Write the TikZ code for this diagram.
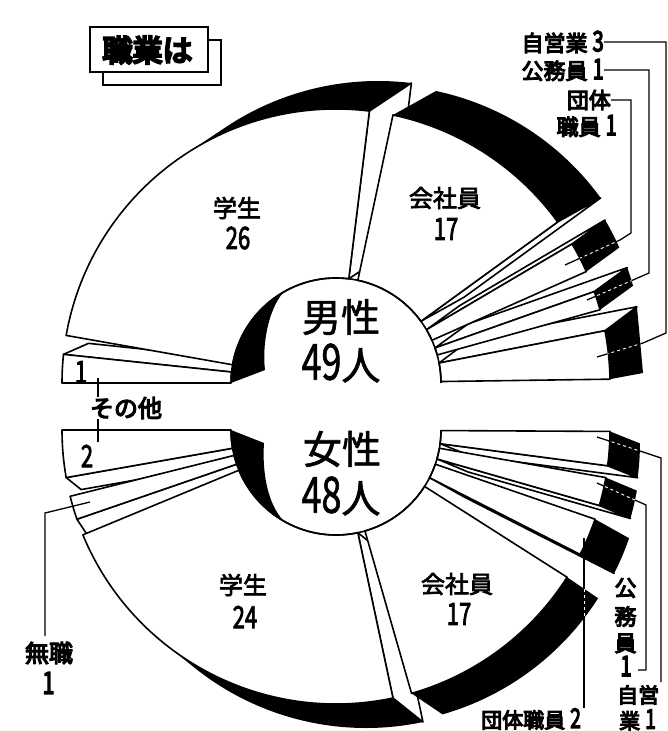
\documentclass[tikz,border=0pt]{standalone}
\usepackage{fontspec}
\usepackage{graphicx}
\usetikzlibrary{calc}
\setmainfont{Noto Sans CJK JP}
\newfontfamily\jH{Noto Sans CJK JP}[FakeBold=1.5]
\newfontfamily\jA{Noto Sans CJK JP}[FakeBold=3]
\newfontfamily\jB{Noto Sans CJK JP}[FakeBold=5]
\newfontfamily\jC{Noto Sans CJK JP}[FakeBold=8]
\newcommand\dg[1]{\scalebox{0.92}[1.28]{#1}}
\newcommand\lblgap{\hspace{5pt}}
\newcommand\frontface[5]{\draw[sface] ($(#1)+(#2:#4)$) -- ($(#1)+(#2:#5)$) arc[start angle=#2,end angle=#3,radius=#5] -- ($(#1)+(#3:#4)$) arc[start angle=#3,end angle=#2,radius=#4] -- cycle;}
\newcommand\rimpath[6]{($(#1)+(#2:#4)$) arc[start angle=#2,end angle=#3,radius=#4] -- ++(#5,#6) arc[start angle=#3,end angle=#2,radius=#4] -- cycle}
\newcommand\rimface[6]{\fill[rimfill] \rimpath{#1}{#2}{#3}{#4}{#5}{#6};}
\newcommand\sideface[6]{\draw[sface] ($(#1)+(#2:#3)$) -- ($(#1)+(#2:#4)$) -- ++(#5,#6) -- ($(#1)+(#2:#3)+(#5,#6)$) -- cycle;}
\begin{document}
\begin{tikzpicture}[x=1pt,y=1pt]
\tikzset{sface/.style={fill=white,draw=black,line width=1.6pt,line join=round},
 rimfill/.style={fill=black},
 ldr/.style={draw=black,line width=1.3pt},
 wdash/.style={draw=white,line width=0.9pt,dash pattern=on 3pt off 3pt},
 lblA/.style={inner sep=0pt,font=\jA\fontsize{24}{24}\selectfont},
 hubl/.style={inner sep=0pt,font=\jH\fontsize{39}{39}\selectfont},
 smallB/.style={inner sep=0pt,font=\jB\fontsize{22}{22}\selectfont},
 smallC/.style={inner sep=0pt,font=\jB\fontsize{24}{24}\selectfont},
 smallD/.style={inner sep=0pt,font=\jB\fontsize{21}{21}\selectfont},
 ttl/.style={inner sep=0pt,font=\jC\fontsize{30}{30}\selectfont}}
\useasboundingbox (0,0) rectangle (668,-731);
\fill[white] (0,0) rectangle (668,-731);
\coordinate (C1) at (336,-383);
\coordinate (C2) at (336,-430);

% ---------------- TOP HALF ----------------
\sideface{C1}{174}{105}{274}{25}{11}
\rimface{C1}{83}{123.69}{274}{42}{28}
\sideface{C1}{83}{105}{274}{42}{28}
\rimface{C1}{36}{78}{274}{43}{24}
\sideface{C1}{36}{105}{274}{43}{24}
\sideface{C1}{30.5}{105}{274}{33}{24}
\rimface{C1}{24}{30.5}{274}{33}{24}
\sideface{C1}{19.5}{105}{274}{33}{24}
\rimface{C1}{15.5}{19.5}{274}{33}{24}
\sideface{C1}{11}{105}{274}{32}{24}
\fill[rimfill] ($(C1)+(11:274)$) -- ++(32,24) -- (643,-373) -- ($(C1)+(0.8:274)$) -- cycle;
\fill[rimfill] ($(C1)+(180:105)$) arc[start angle=180,end angle=120,radius=105] .. controls (268,-310) and (262,-345) .. (265,-370) -- cycle;
\frontface{C1}{174}{180}{105}{274}
\frontface{C1}{83}{170}{105}{274}
\frontface{C1}{36}{78}{105}{274}
\frontface{C1}{24}{30.5}{105}{274}
\frontface{C1}{15.5}{19.5}{105}{274}
\frontface{C1}{0.8}{11}{105}{274}
\draw[line width=1.6pt] ($(C1)+(180:105)$) arc[start angle=180,end angle=0,radius=105];

% ---------------- BOTTOM HALF ----------------
\sideface{C2}{-170}{105}{274}{15}{-12}
\sideface{C2}{-161}{105}{274}{10}{-15}
\rimface{C2}{-128.66}{-78}{274}{30}{-24}
\sideface{C2}{-78}{105}{274}{30}{-24}
\rimface{C2}{-74}{-32.5}{274}{31}{-21}
\sideface{C2}{-27}{105}{274}{34}{-19}
\rimface{C2}{-27}{-19}{274}{34}{-19}
\sideface{C2}{-16}{105}{274}{31}{-13}
\rimface{C2}{-16}{-10}{274}{31}{-13}
\sideface{C2}{-7.5}{105}{274}{30}{-12}
\rimface{C2}{-7.5}{-0.3}{274}{30}{-12}
\fill[rimfill] ($(C2)+(-180:105)$) arc[start angle=-180,end angle=-120,radius=105] .. controls (268,-504) and (262,-474) .. (264,-443) -- cycle;
\frontface{C2}{-180}{-170}{105}{274}
\frontface{C2}{-166}{-161}{105}{274}
\frontface{C2}{-157.5}{-78}{105}{274}
\frontface{C2}{-74}{-32.5}{105}{274}
\frontface{C2}{-27}{-19}{105}{274}
\frontface{C2}{-16}{-10}{105}{274}
\frontface{C2}{-7.5}{-0.3}{105}{274}
\draw[line width=1.6pt] ($(C2)+(-180:105)$) arc[start angle=-180,end angle=0,radius=105];

% ---------------- TITLE ----------------
\draw[line width=1.5pt,fill=white] (103,-40) rectangle (221,-85);
\draw[line width=1.8pt,fill=white] (90,-27) rectangle (208,-72);
\node[ttl] (title) at (147.5,-50) {職業は};

% ---------------- LABELS ----------------
\node[lblA] (stu1) at (237,-208) {学生};
\node[lblA] (stu1n) at (238,-238) {\dg{26}};
\node[lblA] (com1) at (445,-198) {会社員};
\node[lblA] (com1n) at (446,-229) {\dg{17}};
\node[hubl] (male) at (341,-317) {男性};
\node[hubl] (malen) at (341,-363) {\dg{49}人};
\node[hubl] (fem) at (342,-449) {女性};
\node[hubl] (femn) at (341,-496) {\dg{48}人};
\node[lblA] (stu2) at (243,-585) {学生};
\node[lblA] (stu2n) at (245,-617) {\dg{24}};
\node[lblA] (com2) at (457,-584) {会社員};
\node[lblA] (com2n) at (459,-614) {\dg{17}};
\node[lblA] (oth1) at (81,-372) {\dg{1}};
\node[lblA] (oth2) at (87,-456) {\dg{2}};
\node[smallC] (sonota) at (126,-408) {その他};
\node[smallB,anchor=east] (jiei3) at (604,-42) {自営業\lblgap\dg{3}};
\node[smallB,anchor=east] (koum1) at (604,-70) {公務員\lblgap\dg{1}};
\node[smallB,anchor=east] (dant) at (611,-100) {団体};
\node[smallB,anchor=east] (dant1) at (617,-126) {職員\lblgap\dg{1}};
\node[smallC] (mush) at (49,-653) {無職};
\node[smallC] (mush1) at (48.5,-683) {\dg{1}};
\node[smallB] (kb1) at (625.5,-588) {公};
\node[smallB] (kb2) at (625.5,-616.5) {務};
\node[smallB] (kb3) at (625.5,-643.5) {員};
\node[smallB] (kb4) at (626,-666) {\dg{1}};
\node[smallD,anchor=west] (dant2) at (481,-719) {団体職員\lblgap\dg{2}};
\node[smallD,anchor=west] (jieia) at (617,-695) {自営};
\node[smallD,anchor=west] (jieib) at (619,-720) {業\lblgap\dg{1}};

% ---------------- LEADERS ----------------
\coordinate (eJ3) at (597,-357);
\coordinate (eK1) at (587,-300);
\coordinate (eD1) at (565,-265);
\coordinate (eK2) at (597,-483);
\coordinate (eJ1) at (597,-437);
\coordinate (eD2) at (584,-538);
\coordinate (eM) at (90,-502);
\draw[ldr] (jiei3.east) -- (666,-42) -- (666,-333) -- (643,-343) -- (eJ3);
\draw[ldr] (koum1.east) -- (649,-70) -- (649,-273) -- (633,-280) -- (eK1);
\draw[ldr] (dant.east) -- (631,-100) -- (631,-233) -- (620,-240) -- (eD1);
\draw[ldr] (638,-670) -- (646,-670) -- (646,-505) -- (eK2);
\draw[ldr] (661,-682) -- (661,-458) -- (643,-452) -- (eJ1);
\draw[ldr] (dant2.north -| 584,0) -- (eD2);
\draw[ldr] (45,-636) -- (45,-513) -- (eM);
\draw[ldr] (98,-378) -- (sonota.north -| 98,0);
\draw[ldr] (sonota.south -| 98,0) -- (98,-442);

\begin{scope}
\clip ($(C1)+(11:274)$) -- ++(32,24) -- (643,-373) -- ($(C1)+(0.8:274)$) -- cycle;
\draw[wdash] (643,-343) -- (eJ3);
\end{scope}
\begin{scope}
\clip \rimpath{C1}{15.5}{19.5}{274}{33}{24};
\draw[wdash] (633,-280) -- (eK1);
\end{scope}
\begin{scope}
\clip \rimpath{C1}{24}{30.5}{274}{33}{24};
\draw[wdash] (620,-240) -- (eD1);
\end{scope}
\begin{scope}
\clip \rimpath{C2}{-16}{-10}{274}{31}{-13};
\draw[wdash] (646,-505) -- (eK2);
\end{scope}
\begin{scope}
\clip \rimpath{C2}{-7.5}{-0.3}{274}{30}{-12};
\draw[wdash] (643,-452) -- (eJ1);
\end{scope}
\begin{scope}
\clip \rimpath{C2}{-74}{-32.5}{274}{31}{-21};
\draw[wdash] (584,-712) -- (eD2);
\end{scope}
\end{tikzpicture}
\end{document}
